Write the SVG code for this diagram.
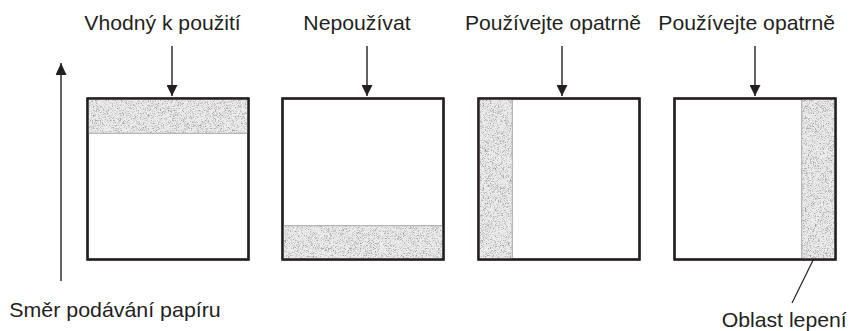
<svg xmlns="http://www.w3.org/2000/svg" width="850" height="331" viewBox="0 0 850 331">
  <defs>
    <style>
      .lbl { font-family: "Liberation Sans", Arial, sans-serif; font-size: 21px; fill: #231f20; }
      .box { fill: #ffffff; stroke: #231f20; stroke-width: 2.2; }
      .band { fill: #ececec; filter: url(#stipple); }
      .edge { stroke: #a8a8a8; stroke-width: 1; }
      .frame { fill: none; stroke: #231f20; stroke-width: 2.2; }
      .conn { stroke: #231f20; stroke-width: 1.4; fill: none; }
      .leader { stroke: #231f20; stroke-width: 1.2; fill: none; }
    </style>
    <filter id="stipple" x="0" y="0" width="1" height="1" filterUnits="objectBoundingBox" color-interpolation-filters="sRGB">
      <feTurbulence type="fractalNoise" baseFrequency="2.6" numOctaves="1" seed="7" result="noise"/>
      <feColorMatrix in="noise" type="matrix" values="0 0 0 0 0.55  0 0 0 0 0.55  0 0 0 0 0.55  3 0 0 0 -1.45" result="dots"/>
      <feComposite in="dots" in2="SourceGraphic" operator="atop"/>
    </filter>
    <marker id="head" viewBox="0 0 11 11" refX="11" refY="5.5" markerWidth="11" markerHeight="11" markerUnits="userSpaceOnUse" orient="auto">
      <path d="M0,0 L11,5.5 L0,11 Z" fill="#231f20"/>
    </marker>
    <marker id="headUp" viewBox="0 0 12 11" refX="12" refY="5.5" markerWidth="12" markerHeight="11" markerUnits="userSpaceOnUse" orient="auto">
      <path d="M0,0 L12,5.5 L0,11 Z" fill="#231f20"/>
    </marker>
  </defs>

  <g id="connectors">
    <line class="conn" x1="61" y1="281" x2="61" y2="63" marker-end="url(#headUp)"/>
    <line class="conn" x1="172" y1="46" x2="172" y2="96" marker-end="url(#head)"/>
    <line class="conn" x1="367" y1="46" x2="367" y2="96" marker-end="url(#head)"/>
    <line class="conn" x1="562" y1="46" x2="562" y2="96" marker-end="url(#head)"/>
    <line class="conn" x1="755" y1="46" x2="755" y2="96" marker-end="url(#head)"/>
    <line class="leader" x1="823" y1="240" x2="792" y2="303"/>
  </g>

  <g id="node-vhodny">
    <rect class="box" x="87.5" y="98.5" width="161" height="161"/>
    <rect class="band" x="88.6" y="99.6" width="158.8" height="33.7"/>
    <line class="edge" x1="88.6" y1="133.3" x2="247.4" y2="133.3"/>
    <rect class="frame" x="87.5" y="98.5" width="161" height="161"/>
    <text class="lbl" x="84.3" y="30" textLength="156.4" lengthAdjust="spacingAndGlyphs">Vhodný k použití</text>
  </g>

  <g id="node-nepouzivat">
    <rect class="box" x="282.5" y="98.5" width="161" height="161"/>
    <rect class="band" x="283.6" y="225.7" width="158.8" height="32.7"/>
    <line class="edge" x1="283.6" y1="225.7" x2="442.4" y2="225.7"/>
    <rect class="frame" x="282.5" y="98.5" width="161" height="161"/>
    <text class="lbl" x="303.3" y="30" textLength="107.4" lengthAdjust="spacingAndGlyphs">Nepoužívat</text>
  </g>

  <g id="node-opatrne-1">
    <rect class="box" x="478.5" y="98.5" width="161" height="161"/>
    <rect class="band" x="479.6" y="99.6" width="32.7" height="158.8"/>
    <line class="edge" x1="512.3" y1="99.6" x2="512.3" y2="258.4"/>
    <rect class="frame" x="478.5" y="98.5" width="161" height="161"/>
    <text class="lbl" x="465" y="30" textLength="176" lengthAdjust="spacingAndGlyphs">Používejte opatrně</text>
  </g>

  <g id="node-opatrne-2">
    <rect class="box" x="674.5" y="98.5" width="161" height="161"/>
    <rect class="band" x="801.7" y="99.6" width="32.7" height="158.8"/>
    <line class="edge" x1="801.7" y1="99.6" x2="801.7" y2="258.4"/>
    <rect class="frame" x="674.5" y="98.5" width="161" height="161"/>
    <text class="lbl" x="658.3" y="30" textLength="176.7" lengthAdjust="spacingAndGlyphs">Používejte opatrně</text>
  </g>

  <g id="label-smer">
    <text class="lbl" x="9.3" y="316.7" textLength="211.4" lengthAdjust="spacingAndGlyphs">Směr podávání papíru</text>
  </g>

  <g id="label-oblast">
    <text class="lbl" x="721.7" y="326.5" textLength="125" lengthAdjust="spacingAndGlyphs">Oblast lepení</text>
  </g>
</svg>
